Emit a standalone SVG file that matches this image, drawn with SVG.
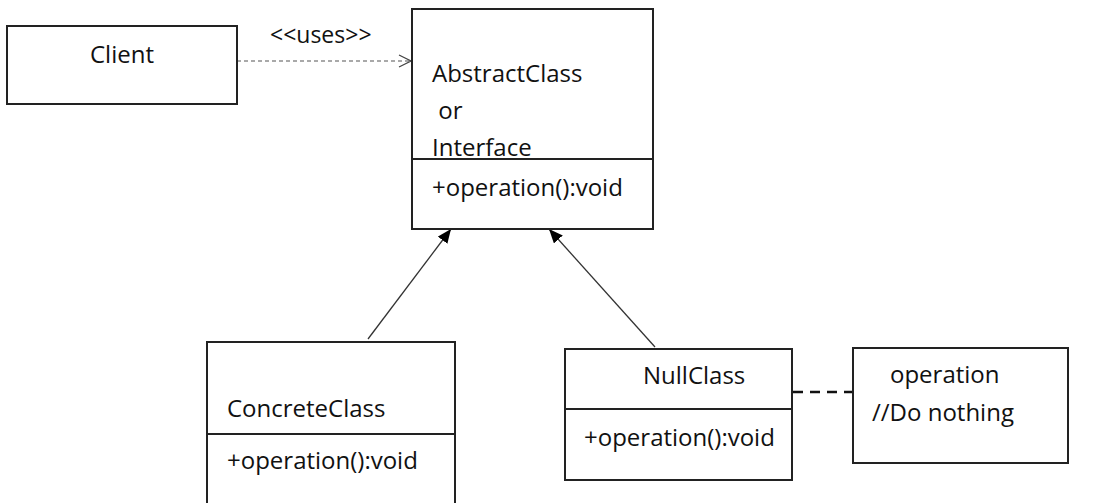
<svg xmlns="http://www.w3.org/2000/svg" width="1107" height="503" viewBox="0 0 1107 503">
<defs>
<style>
.box{fill:#fff;stroke:#222;stroke-width:2}
.div{stroke:#222;stroke-width:2}
.t{font-family:"Open Sans","Liberation Sans",sans-serif;font-size:24px;fill:#111}
.conn{stroke:#333;stroke-width:1.3;fill:none}
</style>
<marker id="tri" viewBox="0 0 14 12" refX="14" refY="6" markerWidth="14" markerHeight="12" markerUnits="userSpaceOnUse" orient="auto">
<path d="M0,0 L14,6 L0,12 Z" fill="#000"/>
</marker>
<marker id="open" viewBox="0 0 14 14" refX="13" refY="7" markerWidth="14" markerHeight="14" markerUnits="userSpaceOnUse" orient="auto">
<path d="M1,1 L13,7 L1,13" fill="none" stroke="#444" stroke-width="1.2"/>
</marker>
</defs>
<rect width="1107" height="503" fill="#fff"/>
<g id="connectors">
<line x1="237" y1="61" x2="411" y2="61" stroke="#555" stroke-width="1.2" stroke-dasharray="4,3" marker-end="url(#open)"/>
<text class="t" x="270" y="43" style="font-size:23px">&lt;&lt;uses&gt;&gt;</text>
<line class="conn" x1="368" y1="339" x2="451" y2="229" marker-end="url(#tri)"/>
<line class="conn" x1="655" y1="347" x2="549" y2="229" marker-end="url(#tri)"/>
<line x1="793" y1="392" x2="853" y2="392" stroke="#111" stroke-width="2.5" stroke-dasharray="10,7"/>
</g>
<g id="client">
<rect class="box" x="7" y="26" width="230" height="78"/>
<text class="t" x="122" y="63" text-anchor="middle">Client</text>
</g>
<g id="abstract">
<rect class="box" x="412" y="9" width="241" height="220"/>
<line class="div" x1="412" y1="159" x2="653" y2="159"/>
<text class="t" x="432" y="82">AbstractClass</text>
<text class="t" x="432" y="119" xml:space="preserve"> or</text>
<text class="t" x="432" y="156">Interface</text>
<text class="t" x="432" y="196">+operation():void</text>
</g>
<g id="concrete">
<rect class="box" x="207" y="342" width="248" height="170"/>
<line class="div" x1="207" y1="434" x2="455" y2="434"/>
<text class="t" x="227" y="417">ConcreteClass</text>
<text class="t" x="227" y="469">+operation():void</text>
</g>
<g id="nullclass">
<rect class="box" x="565" y="349" width="227" height="131"/>
<line class="div" x1="565" y1="409" x2="792" y2="409"/>
<text class="t" x="643" y="384">NullClass</text>
<text class="t" x="584" y="446">+operation():void</text>
</g>
<g id="note">
<rect class="box" x="853" y="348" width="215" height="115"/>
<text class="t" x="890" y="383">operation</text>
<text class="t" x="872" y="421">//Do nothing</text>
</g>
</svg>
